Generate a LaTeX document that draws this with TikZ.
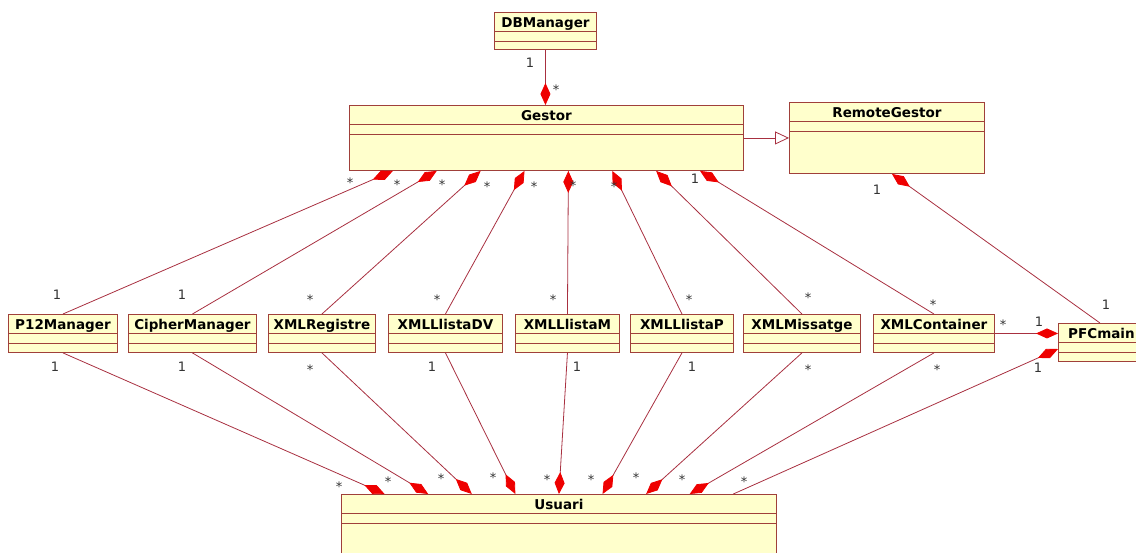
\documentclass[tikz,border=0pt]{standalone}
\usepackage{fontspec}
\setmainfont{DejaVu Sans}
\usetikzlibrary{arrows.meta, positioning, calc}
\definecolor{classfill}{HTML}{FFFFCC}
\definecolor{classedge}{HTML}{A0403A}
\definecolor{assocline}{HTML}{A83040}
\definecolor{compred}{HTML}{EE0000}
\definecolor{multgray}{HTML}{333333}
\tikzstyle{classbox} = [draw=classedge, fill=classfill, line width=0.9pt, inner sep=0pt]
\tikzstyle{classname} = [font=\fontsize{13.5}{15}\selectfont\bfseries, inner sep=0pt, anchor=base]
\tikzstyle{sepline} = [draw=classedge, line width=0.9pt]
\tikzstyle{assoc} = [draw=assocline, line width=0.8pt]
\tikzstyle{comp} = [assoc, -{Diamond[length=22pt, width=10pt, color=compred, fill=compred]}]
\tikzstyle{gen} = [assoc, -{Triangle[open, length=14pt, width=13pt, fill=white]}]
\tikzstyle{mult} = [font=\fontsize{13}{15}\selectfont, text=multgray, inner sep=0pt]
\tikzstyle{multstar} = [mult, yshift=-2.7pt]

% class box: name, left, top, right, bottom, title
\newcommand{\umlclass}[6]{%
  \node[classbox, anchor=north west, minimum width=#4-#2, minimum height=#5-#3] (#1) at (#2,#3) {};
  \draw[sepline] ([yshift=-19.5pt]#1.north west) -- ([yshift=-19.5pt]#1.north east);
  \draw[sepline] ([yshift=-29pt]#1.north west) -- ([yshift=-29pt]#1.north east);
  \node[classname] (#1-name) at ([yshift=-15pt]#1.north) {#6};
}

\begin{document}
\begin{tikzpicture}[x=1pt, y=-1pt]
    \useasboundingbox (0,0) rectangle (1136,552);
    \clip (0,0) rectangle (1136,552);

    \umlclass{dbm}{494}{12}{596}{49}{DBManager}
    \umlclass{gestor}{349}{105}{743}{170}{Gestor}
    \umlclass{remote}{789}{102}{984}{173}{RemoteGestor}
    \umlclass{p12}{8}{314}{117}{352}{P12Manager}
    \umlclass{cipher}{128}{314}{256}{352}{CipherManager}
    \umlclass{xmlreg}{268}{314}{375}{352}{XMLRegistre}
    \umlclass{llistadv}{388}{314}{502}{352}{XMLLlistaDV}
    \umlclass{llistam}{515}{314}{619}{352}{XMLLlistaM}
    \umlclass{llistap}{630}{314}{733}{352}{XMLLlistaP}
    \umlclass{missatge}{743}{314}{860}{352}{XMLMissatge}
    \umlclass{container}{873}{314}{994}{352}{XMLContainer}
    \umlclass{pfc}{1058}{323}{1144}{361}{PFCmain}
    \umlclass{usuari}{341}{494}{776}{600}{Usuari}

    % compositions into Gestor and Usuari
    \foreach \c [count=\i] in {p12,cipher,xmlreg,llistadv,llistam,llistap,missatge,container} {
        \draw[comp] (\c.north) -- ($(gestor.south west)!\i/9!(gestor.south east)$);
        \draw[comp] (\c.south) -- ($(usuari.north west)!\i/10!(usuari.north east)$);
    }
    \coordinate (usuari-9) at ($(usuari.north west)!0.9!(usuari.north east)$);
    \draw[comp] (usuari-9) -- ([yshift=-26pt]pfc.north west);

    \draw[comp] (dbm.south) -- (dbm.south |- gestor.north);
    \draw[gen] (gestor.east) -- (remote.west);
    \draw[comp] ([xshift=42pt]pfc.north west) -- ([xshift=5pt]remote.south);
    \draw[comp] (container.east) -- (container.east -| pfc.west);

    % multiplicities
    \foreach \x/\y [count=\k] in {530/63, 695/179, 877/190, 57/295, 182/295, 1106/305, 1039/322,
        55/367, 182/367, 432/367, 577/367, 692/367, 1038/368}
        \node[mult] (one-\k) at (\x,\y) {1};
    \foreach \x/\y [count=\k] in {556/87, 350/180, 397/182, 442/182, 487/184, 534/184, 573/183, 614/184,
        310/297, 437/297, 553/297, 689/297, 808/295, 933/302, 1003/322,
        310/367, 808/367, 937/367,
        339/484, 388/479, 441/476, 493/475, 547/477, 591/477, 636/475, 682/477, 744/479}
        \node[multstar] (many-\k) at (\x,\y) {*};
\end{tikzpicture}
\end{document}
